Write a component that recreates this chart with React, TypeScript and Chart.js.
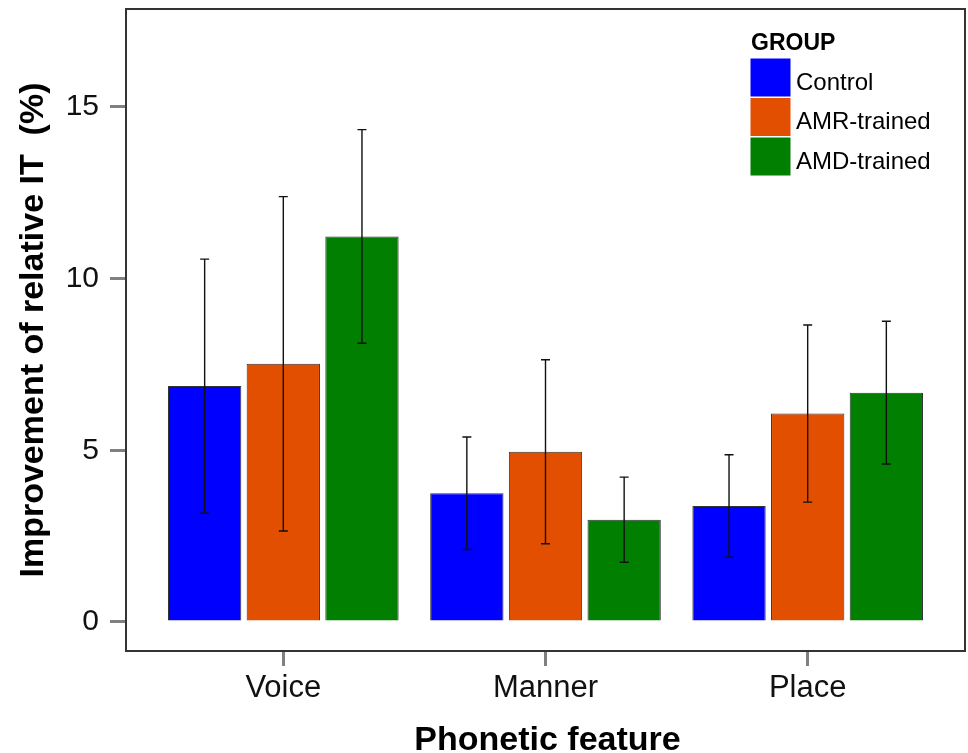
import React, { useEffect, useRef } from "react";
import { Chart, registerables } from "chart.js";

Chart.register(...registerables);

const categories = ["Voice", "Manner", "Place"];
const groups = ["Control", "AMR-trained", "AMD-trained"];
const controlMeans = [6.87, 3.75, 3.38];
const amrMeans = [7.52, 4.96, 6.07];
const amdMeans = [11.23, 2.98, 6.68];
const controlErr = [3.7, 1.64, 1.49];
const amrErr = [4.87, 2.68, 2.58];
const amdErr = [3.11, 1.24, 2.08];
const yTicks = [0, 5, 10, 15];
const xTitle = "Phonetic feature";
const yTitle = "Improvement of relative IT  (%)";
const legendTitle = "GROUP";

const colors = ["#0000FF", "#E34F00", "#007F00"];
const FONT = "'Liberation Sans', Arial, sans-serif";

export default function App() {
  const ref = useRef<HTMLCanvasElement | null>(null);

  useEffect(() => {
    const canvas = ref.current;
    if (!canvas) return;
    const means = [controlMeans, amrMeans, amdMeans];
    const errs = [controlErr, amrErr, amdErr];

    const decorPlugin = {
      id: "decor",
      afterDatasetsDraw(chart: any) {
        const ctx = chart.ctx;
        const ys = chart.scales.y;
        ctx.save();
        // error bars
        ctx.strokeStyle = "#111111";
        ctx.lineWidth = 1.4;
        chart.data.datasets.forEach((ds: any, i: number) => {
          const meta = chart.getDatasetMeta(i);
          meta.data.forEach((el: any, j: number) => {
            const m = means[i][j];
            const e = errs[i][j];
            const yT = ys.getPixelForValue(m + e);
            const yB = ys.getPixelForValue(m - e);
            const x = el.x;
            ctx.beginPath();
            ctx.moveTo(x, yT);
            ctx.lineTo(x, yB);
            ctx.moveTo(x - 4.5, yT);
            ctx.lineTo(x + 4.5, yT);
            ctx.moveTo(x - 4.5, yB);
            ctx.lineTo(x + 4.5, yB);
            ctx.stroke();
          });
        });
        // frame
        const a = chart.chartArea;
        ctx.strokeStyle = "#333333";
        ctx.lineWidth = 2;
        ctx.strokeRect(a.left, a.top, a.right - a.left, a.bottom - a.top);
        // legend
        ctx.fillStyle = "#000000";
        ctx.textAlign = "left";
        ctx.textBaseline = "alphabetic";
        ctx.font = `bold 23px ${FONT}`;
        ctx.fillText(legendTitle, 751, 50);
        ctx.font = `24px ${FONT}`;
        groups.forEach((g, i) => {
          const top = 58.5 + i * 39.5;
          ctx.fillStyle = colors[i];
          ctx.fillRect(750.5, top, 40, 38);
          ctx.fillStyle = "#000000";
          ctx.fillText(g, 796, top + 31);
        });
        // axis titles
        ctx.font = `bold 34px ${FONT}`;
        ctx.textAlign = "center";
        ctx.textBaseline = "alphabetic";
        ctx.fillText(xTitle, (a.left + a.right) / 2 + 2, 750);
        ctx.save();
        ctx.translate(43, (a.top + a.bottom) / 2);
        ctx.rotate(-Math.PI / 2);
        ctx.font = `bold 34px ${FONT}`;
        ctx.fillText(yTitle, 0, 0);
        ctx.restore();
        ctx.restore();
      },
    };

    const chart = new Chart(canvas, {
      type: "bar",
      data: {
        datasets: groups.map((g, i) => ({
          label: g,
          data: means[i].map((v, j) => ({ x: j + 1, y: v })),
          backgroundColor: colors[i],
          borderColor: "#333333",
          borderWidth: 1,
          categoryPercentage: 0.9,
          barPercentage: 0.932,
        })),
      },
      options: {
        responsive: false,
        animation: false,
        layout: { padding: { top: 9, right: 3, left: 0, bottom: 0 } },
        plugins: {
          legend: { display: false },
          tooltip: { enabled: false },
        },
        scales: {
          x: {
            type: "linear",
            min: 0.4,
            max: 3.6,
            offset: false,
            afterFit: (s: any) => {
              s.height = 102;
              s.paddingLeft = 0;
              s.paddingRight = 0;
            },
            afterBuildTicks: (s: any) => {
              s.ticks = categories.map((_, i) => ({ value: i + 1 }));
            },
            border: { display: false },
            grid: {
              offset: false,
              drawOnChartArea: false,
              drawTicks: true,
              tickLength: 15,
              color: "#808080",
              lineWidth: 3,
            },
            ticks: {
              padding: 4,
              color: "#111111",
              font: { size: 31, family: FONT },
              maxRotation: 0,
              callback: (v: any) => categories[Math.round(Number(v)) - 1] ?? "",
            },
          },
          y: {
            type: "linear",
            min: -0.845,
            max: 17.854,
            afterFit: (s: any) => {
              s.width = 126;
              s.paddingTop = 0;
              s.paddingBottom = 0;
            },
            afterBuildTicks: (s: any) => {
              s.ticks = yTicks.map((v) => ({ value: v }));
            },
            border: { display: false },
            grid: {
              drawOnChartArea: false,
              drawTicks: true,
              tickLength: 16,
              color: "#808080",
              lineWidth: 3,
            },
            ticks: {
              padding: 11,
              color: "#111111",
              font: { size: 30, family: FONT },
              callback: (v: any) => String(v),
            },
          },
        },
      },
      plugins: [decorPlugin],
    });

    return () => chart.destroy();
  }, []);

  return (
    <div style={{ position: "absolute", left: 0, top: 0, width: 968, height: 753, background: "#ffffff" }}>
      <canvas ref={ref} width={968} height={753} style={{ display: "block" }} />
    </div>
  );
}
